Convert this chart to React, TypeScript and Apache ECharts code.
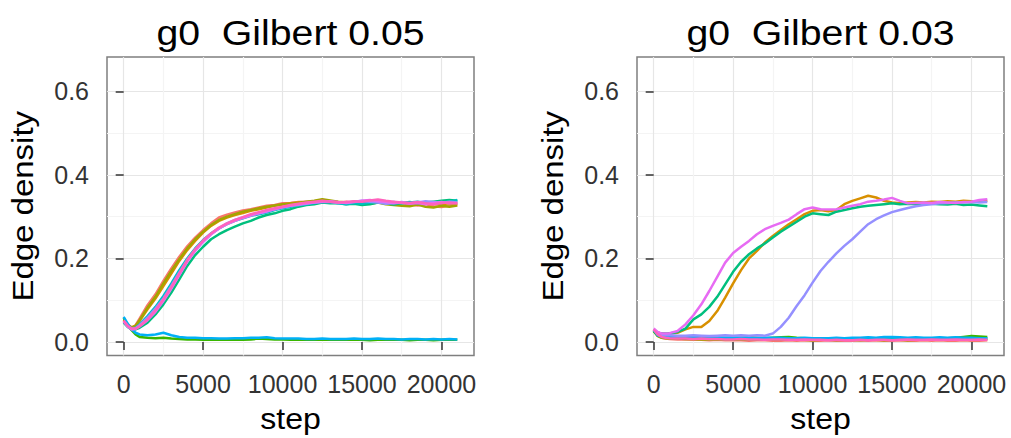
import React, { useEffect, useRef } from "react";
import * as echarts from "echarts";

const STEPS = [0, 250, 500, 750, 1000, 1500, 2000, 2500, 3000, 3500, 4000, 4500, 5000, 5500, 6000, 6500, 7000, 7500, 8000, 8500, 9000, 9500, 10000, 10500, 11000, 11500, 12000, 12500, 13000, 13500, 14000, 14500, 15000, 15500, 16000, 16500, 17000, 17500, 18000, 18500, 19000, 19500, 20000, 20500, 21000];

const X_TICKS = [0, 5000, 10000, 15000, 20000];
const X_MINOR = [2500, 7500, 12500, 17500];
const Y_TICKS = [0, 0.2, 0.4, 0.6];
const Y_MINOR = [0.1, 0.3, 0.5];

const TITLES = ["g0  Gilbert 0.05", "g0  Gilbert 0.03"];
const X_NAME = "step";
const Y_NAME = "Edge density";

const COLORS = ["#F8766D", "#D89000", "#A3A500", "#39B600", "#00BF7D", "#00BFC4", "#00B0F6", "#9590FF", "#E76BF3", "#FF62BC"];

// Panel 1: Gilbert 0.05
const P1_R1 = [0.052, 0.040, 0.034, 0.040, 0.056, 0.088, 0.114, 0.146, 0.176, 0.204, 0.229, 0.250, 0.268, 0.284, 0.298, 0.305, 0.310, 0.315, 0.318, 0.322, 0.326, 0.328, 0.332, 0.333, 0.335, 0.336, 0.337, 0.340, 0.336, 0.334, 0.336, 0.333, 0.337, 0.339, 0.338, 0.335, 0.334, 0.332, 0.330, 0.327, 0.330, 0.325, 0.323, 0.327, 0.329];
const P1_R2 = [0.054, 0.042, 0.035, 0.039, 0.050, 0.078, 0.104, 0.134, 0.164, 0.194, 0.220, 0.242, 0.262, 0.278, 0.290, 0.298, 0.304, 0.309, 0.314, 0.318, 0.322, 0.326, 0.329, 0.332, 0.334, 0.333, 0.336, 0.338, 0.337, 0.335, 0.333, 0.336, 0.334, 0.332, 0.335, 0.333, 0.331, 0.334, 0.332, 0.329, 0.331, 0.333, 0.330, 0.332, 0.331];
const P1_R3 = [0.050, 0.040, 0.034, 0.038, 0.052, 0.082, 0.108, 0.140, 0.170, 0.198, 0.224, 0.246, 0.264, 0.280, 0.292, 0.300, 0.306, 0.312, 0.316, 0.320, 0.324, 0.327, 0.330, 0.331, 0.333, 0.336, 0.338, 0.342, 0.339, 0.336, 0.334, 0.332, 0.333, 0.331, 0.334, 0.330, 0.328, 0.326, 0.325, 0.329, 0.324, 0.322, 0.326, 0.324, 0.327];
const P1_R4 = [0.058, 0.040, 0.028, 0.018, 0.012, 0.010, 0.009, 0.010, 0.008, 0.007, 0.006, 0.006, 0.005, 0.006, 0.005, 0.005, 0.006, 0.005, 0.006, 0.008, 0.007, 0.006, 0.006, 0.005, 0.006, 0.005, 0.005, 0.006, 0.005, 0.006, 0.005, 0.006, 0.005, 0.004, 0.005, 0.006, 0.005, 0.005, 0.004, 0.005, 0.005, 0.004, 0.005, 0.006, 0.005];
const P1_R5 = [0.046, 0.036, 0.030, 0.030, 0.034, 0.046, 0.066, 0.090, 0.118, 0.150, 0.182, 0.208, 0.228, 0.246, 0.258, 0.268, 0.276, 0.284, 0.290, 0.298, 0.304, 0.308, 0.314, 0.318, 0.324, 0.328, 0.330, 0.334, 0.332, 0.333, 0.330, 0.331, 0.328, 0.330, 0.334, 0.332, 0.329, 0.333, 0.335, 0.332, 0.334, 0.336, 0.338, 0.340, 0.338];
const P1_R6 = [0.048, 0.038, 0.032, 0.034, 0.042, 0.062, 0.084, 0.110, 0.140, 0.172, 0.200, 0.224, 0.244, 0.260, 0.272, 0.282, 0.290, 0.296, 0.302, 0.306, 0.310, 0.316, 0.320, 0.324, 0.328, 0.330, 0.333, 0.335, 0.336, 0.332, 0.330, 0.333, 0.331, 0.334, 0.336, 0.333, 0.335, 0.332, 0.334, 0.336, 0.333, 0.331, 0.334, 0.336, 0.340];
const P1_R7 = [0.060, 0.044, 0.030, 0.022, 0.018, 0.016, 0.018, 0.022, 0.016, 0.012, 0.010, 0.010, 0.009, 0.009, 0.008, 0.008, 0.009, 0.009, 0.010, 0.010, 0.011, 0.009, 0.008, 0.008, 0.008, 0.007, 0.007, 0.008, 0.007, 0.007, 0.007, 0.008, 0.007, 0.007, 0.008, 0.007, 0.007, 0.006, 0.007, 0.007, 0.006, 0.007, 0.006, 0.007, 0.006];
const P1_R8 = [0.050, 0.038, 0.031, 0.033, 0.040, 0.058, 0.080, 0.104, 0.134, 0.166, 0.196, 0.220, 0.240, 0.258, 0.272, 0.284, 0.292, 0.298, 0.304, 0.308, 0.312, 0.318, 0.322, 0.326, 0.328, 0.331, 0.334, 0.336, 0.335, 0.333, 0.334, 0.336, 0.338, 0.336, 0.334, 0.331, 0.333, 0.335, 0.332, 0.334, 0.337, 0.335, 0.333, 0.336, 0.334];
const P1_R9 = [0.049, 0.037, 0.030, 0.031, 0.037, 0.052, 0.072, 0.098, 0.128, 0.160, 0.192, 0.218, 0.240, 0.258, 0.272, 0.282, 0.290, 0.297, 0.303, 0.308, 0.313, 0.318, 0.323, 0.326, 0.330, 0.332, 0.334, 0.336, 0.337, 0.335, 0.333, 0.335, 0.338, 0.340, 0.337, 0.335, 0.332, 0.334, 0.331, 0.333, 0.330, 0.333, 0.335, 0.332, 0.333];
const P1_R10 = [0.051, 0.039, 0.032, 0.032, 0.038, 0.054, 0.076, 0.102, 0.132, 0.164, 0.196, 0.222, 0.243, 0.260, 0.274, 0.284, 0.292, 0.299, 0.306, 0.311, 0.316, 0.320, 0.324, 0.328, 0.331, 0.334, 0.336, 0.338, 0.336, 0.334, 0.335, 0.337, 0.336, 0.339, 0.341, 0.338, 0.336, 0.334, 0.333, 0.335, 0.332, 0.330, 0.333, 0.334, 0.332];

// Panel 2: Gilbert 0.03
const P2_R1 = [0.028, 0.015, 0.010, 0.008, 0.007, 0.006, 0.006, 0.005, 0.005, 0.004, 0.005, 0.004, 0.004, 0.004, 0.003, 0.004, 0.004, 0.003, 0.003, 0.004, 0.003, 0.004, 0.003, 0.003, 0.004, 0.003, 0.003, 0.003, 0.004, 0.003, 0.004, 0.003, 0.003, 0.004, 0.003, 0.003, 0.004, 0.003, 0.004, 0.003, 0.003, 0.004, 0.003, 0.003, 0.004];
const P2_R2 = [0.030, 0.022, 0.020, 0.019, 0.020, 0.022, 0.030, 0.036, 0.036, 0.050, 0.074, 0.106, 0.140, 0.172, 0.200, 0.218, 0.238, 0.254, 0.268, 0.282, 0.294, 0.306, 0.314, 0.316, 0.313, 0.316, 0.330, 0.338, 0.344, 0.350, 0.346, 0.338, 0.334, 0.332, 0.334, 0.335, 0.334, 0.336, 0.335, 0.337, 0.336, 0.338, 0.337, 0.336, 0.338];
const P2_R3 = [0.027, 0.014, 0.010, 0.009, 0.008, 0.008, 0.007, 0.007, 0.006, 0.006, 0.006, 0.005, 0.006, 0.005, 0.005, 0.005, 0.006, 0.005, 0.005, 0.006, 0.005, 0.005, 0.004, 0.005, 0.005, 0.004, 0.005, 0.005, 0.004, 0.005, 0.005, 0.004, 0.005, 0.005, 0.004, 0.005, 0.005, 0.006, 0.005, 0.005, 0.006, 0.005, 0.006, 0.006, 0.007];
const P2_R4 = [0.026, 0.015, 0.012, 0.011, 0.010, 0.010, 0.009, 0.008, 0.009, 0.008, 0.008, 0.009, 0.010, 0.009, 0.011, 0.010, 0.009, 0.010, 0.011, 0.012, 0.010, 0.009, 0.008, 0.008, 0.007, 0.008, 0.007, 0.008, 0.007, 0.006, 0.007, 0.008, 0.007, 0.008, 0.007, 0.008, 0.008, 0.007, 0.008, 0.009, 0.010, 0.012, 0.014, 0.013, 0.012];
const P2_R5 = [0.028, 0.022, 0.020, 0.020, 0.020, 0.024, 0.032, 0.054, 0.066, 0.084, 0.108, 0.138, 0.168, 0.192, 0.210, 0.224, 0.236, 0.250, 0.264, 0.276, 0.288, 0.300, 0.308, 0.306, 0.304, 0.312, 0.316, 0.320, 0.324, 0.326, 0.328, 0.330, 0.332, 0.330, 0.331, 0.330, 0.332, 0.331, 0.330, 0.329, 0.331, 0.328, 0.329, 0.327, 0.325];
const P2_R6 = [0.029, 0.017, 0.013, 0.012, 0.011, 0.011, 0.010, 0.010, 0.010, 0.010, 0.009, 0.010, 0.009, 0.010, 0.009, 0.009, 0.009, 0.008, 0.009, 0.009, 0.008, 0.009, 0.009, 0.008, 0.008, 0.009, 0.008, 0.009, 0.008, 0.009, 0.009, 0.010, 0.009, 0.009, 0.008, 0.009, 0.009, 0.008, 0.009, 0.008, 0.009, 0.009, 0.008, 0.009, 0.008];
const P2_R7 = [0.028, 0.016, 0.013, 0.012, 0.012, 0.011, 0.011, 0.011, 0.011, 0.010, 0.011, 0.010, 0.010, 0.010, 0.010, 0.009, 0.010, 0.010, 0.010, 0.009, 0.009, 0.010, 0.009, 0.009, 0.009, 0.010, 0.009, 0.010, 0.010, 0.011, 0.010, 0.012, 0.012, 0.011, 0.010, 0.011, 0.010, 0.010, 0.011, 0.010, 0.011, 0.010, 0.010, 0.009, 0.009];
const P2_R8 = [0.030, 0.020, 0.017, 0.016, 0.016, 0.015, 0.015, 0.016, 0.015, 0.014, 0.015, 0.016, 0.015, 0.016, 0.015, 0.016, 0.015, 0.020, 0.036, 0.058, 0.086, 0.112, 0.142, 0.170, 0.192, 0.212, 0.230, 0.246, 0.264, 0.282, 0.294, 0.303, 0.311, 0.316, 0.321, 0.325, 0.328, 0.330, 0.332, 0.333, 0.334, 0.334, 0.335, 0.334, 0.335];
const P2_R9 = [0.032, 0.024, 0.020, 0.020, 0.021, 0.026, 0.042, 0.064, 0.090, 0.122, 0.156, 0.190, 0.213, 0.228, 0.242, 0.258, 0.270, 0.278, 0.285, 0.293, 0.306, 0.318, 0.322, 0.318, 0.317, 0.318, 0.322, 0.326, 0.330, 0.336, 0.338, 0.341, 0.345, 0.338, 0.332, 0.333, 0.334, 0.333, 0.335, 0.334, 0.333, 0.335, 0.336, 0.340, 0.342];
const P2_R10 = [0.030, 0.018, 0.012, 0.010, 0.009, 0.008, 0.008, 0.007, 0.008, 0.007, 0.007, 0.006, 0.006, 0.007, 0.006, 0.006, 0.005, 0.006, 0.006, 0.005, 0.005, 0.006, 0.005, 0.005, 0.004, 0.005, 0.004, 0.004, 0.005, 0.004, 0.005, 0.005, 0.004, 0.005, 0.006, 0.005, 0.005, 0.006, 0.005, 0.005, 0.006, 0.005, 0.005, 0.006, 0.005];

const PANEL_RUNS = [
  [P1_R1, P1_R2, P1_R3, P1_R4, P1_R5, P1_R6, P1_R7, P1_R8, P1_R9, P1_R10],
  [P2_R1, P2_R2, P2_R3, P2_R4, P2_R5, P2_R6, P2_R7, P2_R8, P2_R9, P2_R10],
];

const FONT = "'Liberation Sans', Arial, Helvetica, sans-serif";
const X_MIN = -1050;
const X_MAX = 22050;
const Y_MIN = -0.0325;
const Y_MAX = 0.6825;

const GRID_LEFTS = [107, 637];
const GRID_TOP = 57;
const GRID_W = 367;
const GRID_H = 298.5;

export default function App() {
  const ref = useRef<HTMLDivElement>(null);

  useEffect(() => {
    if (!ref.current) return;
    const chart = echarts.init(ref.current, undefined, { renderer: "svg" });

    const grids = GRID_LEFTS.map((left) => ({
      left,
      top: GRID_TOP,
      width: GRID_W,
      height: GRID_H,
      show: true,
      backgroundColor: "#ffffff",
      borderColor: "#7f7f7f",
      borderWidth: 1.5,
    }));

    const xMain = [0, 1].map((g) => ({
      type: "value",
      gridIndex: g,
      min: X_MIN,
      max: X_MAX,
      offset: 2,
      axisLine: { show: false },
      axisTick: { show: true, length: 8, customValues: X_TICKS, lineStyle: { color: "#333333", width: 1.5 } },
      axisLabel: {
        show: true,
        customValues: X_TICKS,
        margin: 14,
        color: "#333333",
        fontSize: 25,
        fontFamily: FONT,
        formatter: (v: number) => String(v),
      },
      splitLine: { show: true, lineStyle: { color: "#e6e6e6", width: 1.2 } },
    }));
    const xMinor = [0, 1].map((g) => ({
      type: "value",
      gridIndex: g,
      min: X_MIN,
      max: X_MAX,
      axisLine: { show: false },
      axisTick: { show: false, customValues: X_MINOR },
      axisLabel: { show: false, customValues: X_MINOR },
      splitLine: { show: true, lineStyle: { color: "#f4f4f4", width: 1.2 } },
    }));
    const yMain = [0, 1].map((g) => ({
      type: "value",
      gridIndex: g,
      min: Y_MIN,
      max: Y_MAX,
      offset: 3,
      axisLine: { show: false },
      axisTick: { show: true, length: 8, customValues: Y_TICKS, lineStyle: { color: "#333333", width: 1.5 } },
      axisLabel: {
        show: true,
        customValues: Y_TICKS,
        margin: 15,
        color: "#333333",
        fontSize: 25,
        fontFamily: FONT,
        formatter: (v: number) => v.toFixed(1),
      },
      splitLine: { show: true, lineStyle: { color: "#e6e6e6", width: 1.2 } },
    }));
    const yMinor = [0, 1].map((g) => ({
      type: "value",
      gridIndex: g,
      min: Y_MIN,
      max: Y_MAX,
      axisLine: { show: false },
      axisTick: { show: false, customValues: Y_MINOR },
      axisLabel: { show: false, customValues: Y_MINOR },
      splitLine: { show: true, lineStyle: { color: "#f4f4f4", width: 1.2 } },
    }));

    const series: any[] = [];
    PANEL_RUNS.forEach((runs, p) => {
      runs.forEach((vals, r) => {
        series.push({
          type: "line",
          xAxisIndex: p,
          yAxisIndex: p,
          data: STEPS.map((s, i) => [s, vals[i]]),
          showSymbol: false,
          silent: true,
          lineStyle: { color: COLORS[r], width: 2.5 },
          itemStyle: { color: COLORS[r] },
          z: 3,
        });
      });
    });

    const graphics: any[] = [];
    GRID_LEFTS.forEach((left, p) => {
      const cx = left + GRID_W / 2;
      graphics.push({
        type: "text",
        x: cx,
        y: 33,
        scaleX: 1.09,
        style: { text: TITLES[p], fontSize: 36, fontFamily: FONT, fill: "#000000", align: "center", verticalAlign: "middle" },
      });
      graphics.push({
        type: "text",
        x: cx,
        y: 419,
        scaleX: 1.07,
        style: { text: X_NAME, fontSize: 30, fontFamily: FONT, fill: "#000000", align: "center", verticalAlign: "middle" },
      });
      graphics.push({
        type: "text",
        x: left - 84,
        y: GRID_TOP + GRID_H / 2,
        rotation: Math.PI / 2,
        scaleX: 1.1,
        style: { text: Y_NAME, fontSize: 30, fontFamily: FONT, fill: "#000000", align: "center", verticalAlign: "middle" },
      });
    });

    chart.setOption({
      animation: false,
      backgroundColor: "#ffffff",
      grid: grids,
      xAxis: [...xMain, ...xMinor],
      yAxis: [...yMain, ...yMinor],
      series,
      graphic: graphics,
    });

    return () => chart.dispose();
  }, []);

  return <div ref={ref} style={{ width: 1011, height: 438, position: "absolute", left: 0, top: 0 }} />;
}
